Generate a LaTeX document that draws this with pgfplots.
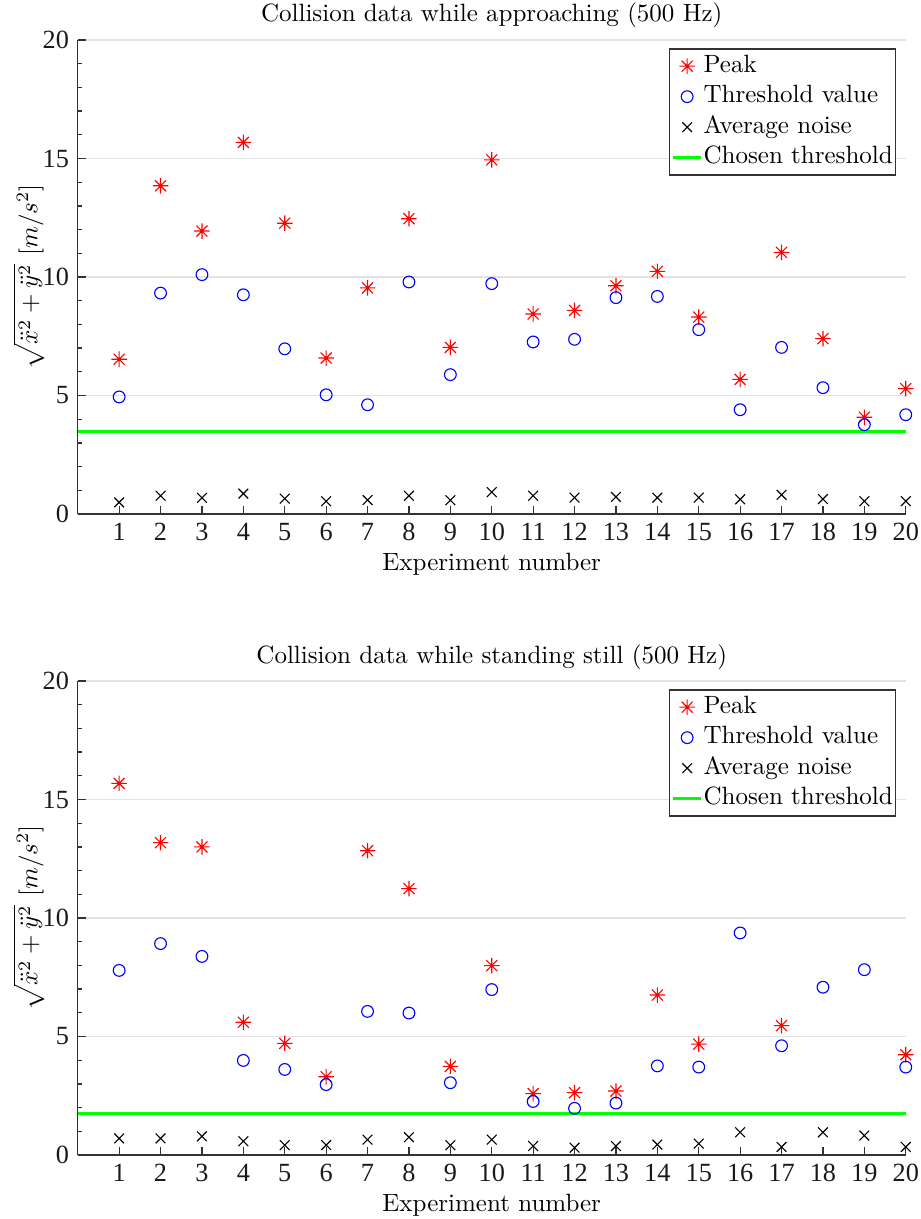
\documentclass[border=0pt]{standalone}
\usepackage{pgfplots}
\pgfplotsset{compat=1.18}
\usepackage{fontspec}
\newfontfamily\tickfont{Liberation Serif}
\definecolor{axgray}{RGB}{50,50,50}
\definecolor{gridgray}{RGB}{226,226,226}
\pgfdeclareplotmark{mstar}{%
  \pgfpathmoveto{\pgfqpoint{0pt}{\pgfplotmarksize}}%
  \pgfpathlineto{\pgfqpoint{0pt}{-\pgfplotmarksize}}%
  \pgfpathmoveto{\pgfqpoint{\pgfplotmarksize}{0pt}}%
  \pgfpathlineto{\pgfqpoint{-\pgfplotmarksize}{0pt}}%
  \pgfpathmoveto{\pgfqpoint{.7071\pgfplotmarksize}{.7071\pgfplotmarksize}}%
  \pgfpathlineto{\pgfqpoint{-.7071\pgfplotmarksize}{-.7071\pgfplotmarksize}}%
  \pgfpathmoveto{\pgfqpoint{-.7071\pgfplotmarksize}{.7071\pgfplotmarksize}}%
  \pgfpathlineto{\pgfqpoint{.7071\pgfplotmarksize}{-.7071\pgfplotmarksize}}%
  \pgfusepathqstroke}
\pgfplotsset{
  mystyle/.style={
    scale only axis, width=331.2pt, height=189.6pt,
    xmin=0, xmax=20, ymin=0, ymax=20,
    xtick={1,...,20}, ytick={0,5,10,15,20},
    minor y tick num=4,
    axis lines=left,
    axis line style={-, axgray, line width=0.5pt},
    tick align=inside,
    major tick length=3.2pt, minor tick length=1.8pt,
    tick style={axgray, line width=0.5pt},
    ymajorgrids, major grid style={gridgray, line width=0.5pt},
    /pgf/number format/assume math mode=true,
    ticklabel style={font=\tickfont\fontsize{10.5}{12}\selectfont, text=black!90},
    xlabel={Experiment number},
    ylabel={$\sqrt{\ddot{x}^2+\ddot{y}^2}\ [m/s^2]$},
    xlabel shift=-2pt, ylabel shift=-4.7pt,
    label style={font=\fontsize{10}{12}\selectfont},
    ylabel style={inner sep=0.5pt},
    title style={font=\fontsize{10}{12}\selectfont, at={(0.5,1)}, anchor=base, yshift=1.2pt},
    legend style={at={(0.9888,0.9825)}, anchor=north east, draw=axgray, line width=0.5pt,
      inner sep=0.8pt, row sep=0pt,
      font=\fontsize{10}{12}\selectfont,
      nodes={inner ysep=1.6pt, inner xsep=0.4pt, text height=7pt, text depth=2pt}},
    legend cell align=left,
    legend image code/.code={\draw[mark repeat=2,mark phase=2,#1] plot coordinates {(0pt,0pt)(5.5pt,0pt)(11pt,0pt)};},
    every axis plot/.append style={line width=0.45pt},
  }
}
\begin{document}
\begin{tikzpicture}
\path[use as bounding box] (-31.1pt,-282pt) rectangle (336.9pt,205.6pt);
\begin{axis}[mystyle, at={(0pt,0pt)}, anchor=south west,
  title={Collision data while approaching (500 Hz)}]
\addplot[only marks, mark=mstar, mark size=3.1pt, red] coordinates {
(1,6.53)(2,13.85)(3,11.94)(4,15.68)(5,12.27)(6,6.58)(7,9.54)(8,12.46)(9,7.03)(10,14.94)
(11,8.44)(12,8.59)(13,9.63)(14,10.24)(15,8.31)(16,5.68)(17,11.04)(18,7.40)(19,4.08)(20,5.29)};
\addlegendentry{Peak}
\addplot[only marks, mark=o, mark size=2.35pt, blue] coordinates {
(1,4.94)(2,9.32)(3,10.10)(4,9.25)(5,6.97)(6,5.03)(7,4.61)(8,9.79)(9,5.88)(10,9.72)
(11,7.26)(12,7.37)(13,9.13)(14,9.18)(15,7.78)(16,4.40)(17,7.03)(18,5.33)(19,3.77)(20,4.19)};
\addlegendentry{Threshold value}
\addplot[only marks, mark=x, mark size=2.75pt, black] coordinates {
(1,0.49)(2,0.77)(3,0.68)(4,0.86)(5,0.65)(6,0.54)(7,0.59)(8,0.77)(9,0.58)(10,0.92)
(11,0.77)(12,0.69)(13,0.72)(14,0.69)(15,0.69)(16,0.62)(17,0.81)(18,0.63)(19,0.54)(20,0.54)};
\addlegendentry{Average noise}
\addplot[no marks, color={rgb,1:red,0;green,1;blue,0}, line width=1.35pt] coordinates {(0,3.47)(20,3.47)};
\addlegendentry{Chosen threshold}
\end{axis}
\begin{axis}[mystyle, at={(0pt,-256.4pt)}, anchor=south west,
  title={Collision data while standing still (500 Hz)}]
\addplot[only marks, mark=mstar, mark size=3.1pt, red] coordinates {
(1,15.68)(2,13.18)(3,13.00)(4,5.60)(5,4.71)(6,3.30)(7,12.84)(8,11.24)(9,3.74)(10,7.99)
(11,2.59)(12,2.63)(13,2.70)(14,6.75)(15,4.68)(17,5.46)(20,4.23)};
\addlegendentry{Peak}
\addplot[only marks, mark=o, mark size=2.35pt, blue] coordinates {
(1,7.79)(2,8.92)(3,8.38)(4,3.99)(5,3.61)(6,2.97)(7,6.06)(8,5.99)(9,3.05)(10,6.98)
(11,2.26)(12,1.97)(13,2.19)(14,3.76)(15,3.71)(16,9.37)(17,4.61)(18,7.08)(19,7.82)(20,3.71)};
\addlegendentry{Threshold value}
\addplot[only marks, mark=x, mark size=2.75pt, black] coordinates {
(1,0.70)(2,0.70)(3,0.79)(4,0.58)(5,0.42)(6,0.42)(7,0.65)(8,0.75)(9,0.41)(10,0.65)
(11,0.38)(12,0.31)(13,0.38)(14,0.44)(15,0.48)(16,0.96)(17,0.34)(18,0.96)(19,0.82)(20,0.34)};
\addlegendentry{Average noise}
\addplot[no marks, color={rgb,1:red,0;green,1;blue,0}, line width=1.35pt] coordinates {(0,1.74)(20,1.74)};
\addlegendentry{Chosen threshold}
\end{axis}
\end{tikzpicture}
\end{document}
